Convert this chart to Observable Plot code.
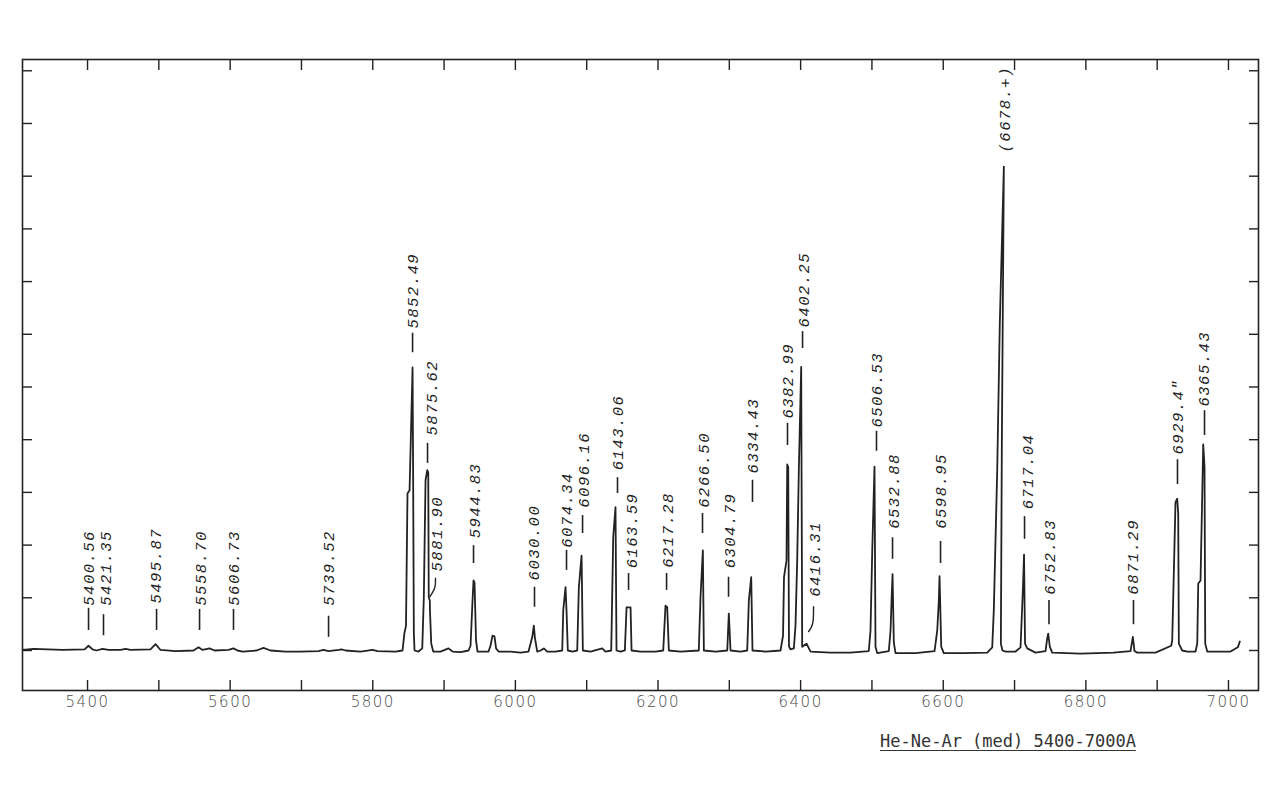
<!DOCTYPE html>
<html><head><meta charset="utf-8">
<script src="https://cdn.jsdelivr.net/npm/d3@7"></script>
<script src="https://cdn.jsdelivr.net/npm/@observablehq/plot@0.6"></script>
<style>
html,body{margin:0;padding:0;background:#fff;}
#chart{position:relative;width:1280px;height:796px;overflow:hidden;}
#chart svg text{letter-spacing:1.5px;}
#caption{position:absolute;left:880px;top:731px;font-family:"DejaVu Sans Mono",monospace;font-size:17px;line-height:20px;color:#333;text-decoration:underline;text-underline-offset:3px;white-space:pre;}
</style></head><body>
<div id="chart"><div id="caption">He-Ne-Ar (med) 5400-7000A</div></div>
<script>
// Spectrum trace: wavelength (Å) and relative intensity (chart divisions)
const spectrumWl = [
5309.0,5324.3,5343.9,5364.9,5395.8,5401.4,5407.0,5412.6,5421.0,5429.4,5446.3,5453.3,5460.3,5488.3,5495.4,5502.4,5523.4,5548.6,5555.7,5561.3,5571.1,5578.1,5597.7,5604.7,5610.3,5617.4,5637.0,5646.8,5656.6,5677.7,5698.7,5723.9,5730.9,5738.0,5752.0,5756.2,5761.8,5782.8,5799.7,5806.7,5831.9,
5841.7,5844.5,5846.6,5848.7,5851.6,5855.8,5856.7,5857.6,5858.6,5864.2,5869.4,5871.6,5874.0,5876.4,5877.8,5878.5,5880.0,5880.2,5882.0,5884.8,5895.0,5906.2,5911.9,5923.1,5934.3,5937.1,5939.9,5941.3,5942.7,5944.8,5946.9,5962.3,5965.1,5967.9,5970.7,5972.9,5976.4,5993.2,6007.2,6018.4,6023.6,6025.9,6027.3,6030.6,6035.3,6039.9,6044.7,6056.3,6065.7,6067.1,6070.3,6071.7,6073.5,6080.1,6086.7,6089.0,6092.8,6094.6,6105.4,6121.8,6126.4,6134.4,6137.2,6140.4,6141.8,6147.4,6153.5,6155.9,6161.5,6162.9,6175.5,6196.5,6207.3,6210.5,6212.9,6215.2,6231.6,6257.2,6259.6,6262.9,6264.3,6280.7,6297.1,6299.3,6301.7,6315.7,6325.1,6327.4,6330.7,6332.5,6350.8,
6371.8,6375.3,6376.7,6380.2,6381.2,6382.6,6383.7,6385.8,6390.5,6392.8,6395.2,6397.5,6400.8,6402.2,6408.3,6413.9,6441.9,6470.0,6495.6,6498.0,6500.4,6503.6,6505.0,6507.4,6523.7,6526.1,6527.5,6528.9,6530.7,6533.1,6561.1,6587.8,6591.6,6593.8,6594.8,6597.2,6600.8,6628.9,6661.7,
6668.7,6670.9,6675.7,6679.3,6685.0,6682.2,6680.8,6683.1,6687.3,6701.4,6708.4,6711.9,6713.3,6714.7,6717.8,6729.4,6743.4,6745.8,6747.2,6749.5,6752.8,6792.5,6838.8,6862.6,6865.9,6868.2,6872.0,6897.7,6919.7,6921.1,6925.7,6928.1,6929.5,6930.4,6935.1,6942.2,6953.8,6956.2,6957.6,6960.8,6964.6,6966.4,6967.4,6970.2,7002.9,7013.1,7015.9
];
const spectrumIntensity = [
0.01,0.03,0.02,0.01,0.02,0.09,0.02,0.00,0.03,0.01,0.01,0.03,0.01,0.02,0.12,0.01,-0.01,0.00,0.06,0.01,0.04,0.00,0.01,0.04,0.00,-0.02,0.00,0.05,0.00,-0.02,-0.02,-0.01,0.01,-0.01,0.01,0.02,0.00,-0.02,0.01,-0.01,-0.02,
0.00,0.34,0.47,2.98,3.04,5.37,3.04,0.32,0.00,-0.02,0.04,1.01,3.23,3.42,3.38,1.01,0.95,0.76,0.13,-0.02,-0.02,0.04,-0.02,-0.03,0.00,0.09,0.95,1.33,1.29,0.19,-0.02,-0.02,0.09,0.28,0.27,0.04,-0.02,-0.02,-0.04,-0.02,0.25,0.47,0.25,-0.02,0.00,0.04,-0.02,-0.02,0.00,0.76,1.20,0.76,0.00,-0.02,0.00,1.20,1.80,0.00,-0.02,0.04,-0.02,0.00,2.15,2.72,0.00,-0.02,0.00,0.82,0.82,0.00,-0.02,-0.02,0.00,0.85,0.82,0.00,-0.02,0.00,1.01,1.90,0.00,-0.02,0.00,0.70,0.00,-0.02,0.00,0.95,1.39,0.00,-0.02,
0.00,0.28,1.39,1.71,3.53,3.48,0.08,0.02,0.04,0.47,1.71,3.43,5.38,0.07,0.13,-0.02,-0.04,-0.04,-0.01,0.38,1.87,3.49,0.07,-0.05,-0.01,0.38,0.95,1.45,0.15,-0.05,-0.05,-0.01,0.38,0.95,1.41,0.07,-0.05,-0.05,-0.04,
0.06,0.76,3.42,6.20,9.18,3.98,0.13,0.00,-0.02,-0.02,0.06,1.23,1.82,0.13,0.04,-0.04,-0.01,0.23,0.32,0.07,-0.04,-0.06,-0.04,-0.01,0.26,-0.01,-0.04,-0.04,0.09,0.19,2.81,2.88,2.60,0.13,0.00,-0.02,-0.02,0.13,1.27,1.33,3.91,3.48,0.13,-0.02,-0.02,0.06,0.17
];

// Line identifications (text as printed)
const labelNames = ["5400.56","5421.35","5495.87","5558.70","5606.73","5739.52","5852.49","5875.62","5881.90","5944.83","6030.00","6074.34","6096.16","6143.06","6163.59","6217.28","6266.50","6304.79","6334.43","6382.99","6402.25","6416.31","6506.53","6532.88","6598.95","(6678.+)","6717.04","6752.83","6871.29","6929.4\u2033","6365.43"];
const labelWl = [5401.4,5426.6,5495.4,5558.5,5606.1,5738.0,5855.8,5883.8,5890.4,5944.1,6026.8,6073.1,6095.6,6144.6,6162.9,6213.4,6265.2,6301.7,6333.9,6383.0,6404.1,6420.9,6507.8,6530.3,6597.6,6687.3,6719.6,6750.4,6866.8,6929.9,6966.4];
const labelBase = [0.85,0.85,0.89,0.85,0.85,0.85,6.11,4.08,1.50,2.13,1.33,1.95,2.71,3.42,1.56,1.57,2.71,1.56,3.36,4.40,6.13,1.02,4.23,2.31,2.31,9.45,2.68,1.06,1.06,3.72,4.63];

// Identification ticks
const markerWl   = [5401.4,5422.4,5496.8,5557.1,5604.7,5738.0,5855.8,5876.8,5941.3,6026.8,6071.7,6094.2,6143.2,6158.7,6212.0,6262.4,6298.9,6332.5,6381.6,6402.7,6506.4,6528.9,6596.2,6714.0,6748.3,6866.8,6928.5,6966.4];
const markerLow  = [0.38,0.28,0.38,0.38,0.38,0.25,5.65,3.55,1.65,0.82,1.52,2.22,2.98,1.14,1.14,2.22,1.01,2.81,3.89,5.73,3.78,1.73,1.65,2.11,0.49,0.49,3.15,4.08];
const markerHigh = [0.80,0.68,0.78,0.78,0.78,0.65,6.02,3.93,1.99,1.20,1.90,2.56,3.28,1.46,1.46,2.60,1.39,3.23,4.31,6.05,4.16,2.14,2.07,2.54,0.95,0.95,3.62,4.55];

// Bent ticks for blended lines
const hookGroup = ["5881.90","5881.90","5881.90","5881.90","6416.31","6416.31","6416.31","6416.31"];
const hookWl = [5888.0,5888.0,5883.8,5880.0,6418.1,6418.1,6414.6,6411.1];
const hookIntensity = [1.37,1.20,1.10,1.02,0.83,0.53,0.42,0.36];

// Axes
const xTicks = [5400,5500,5600,5700,5800,5900,6000,6100,6200,6300,6400,6500,6600,6700,6800,6900,7000];
const xTickLabels = [5400,5600,5800,6000,6200,6400,6600,6800,7000];
const yTicks = [0,1,2,3,4,5,6,7,8,9,10,11];

const spectrum = spectrumWl.map((w, i) => ({wl: w, v: spectrumIntensity[i]}));
const labels = labelNames.map((t, i) => ({t, wl: labelWl[i], v: labelBase[i]}));
const markers = markerWl.map((w, i) => ({wl: w, lo: markerLow[i], hi: markerHigh[i]}));
const hooks = hookWl.map((w, i) => ({g: hookGroup[i], wl: w, v: hookIntensity[i]}));

const ink = "#222";
const plot = Plot.plot({
  width: 1280, height: 796,
  marginLeft: 22, marginRight: 22, marginTop: 59, marginBottom: 106,
  x: {domain: [5308.8, 7042.1]},
  y: {domain: [-0.759, 11.214]},
  style: {background: "transparent", color: ink},
  marks: [
    Plot.frame({stroke: ink, strokeWidth: 1.6}),
    Plot.axisY({anchor: "left", ticks: yTicks, tickSize: -10, tickFormat: () => "", label: null, strokeWidth: 1.4}),
    Plot.axisY({anchor: "right", ticks: yTicks, tickSize: -10, tickFormat: () => "", label: null, strokeWidth: 1.4}),
    Plot.axisX({anchor: "bottom", ticks: xTicks, tickSize: -10, tickFormat: () => "", label: null, strokeWidth: 1.4}),
    Plot.axisX({anchor: "top", ticks: xTicks, tickSize: -10, tickFormat: () => "", label: null, strokeWidth: 1.4}),
    Plot.text(xTickLabels, {x: d => d, frameAnchor: "bottom", dy: 16, text: d => String(d), fontFamily: "DejaVu Sans", fontSize: 15, fontWeight: 300, fill: "#4a4a4a"}),
    Plot.line(spectrum, {x: "wl", y: "v", stroke: ink, strokeWidth: 1.8}),
    Plot.ruleX(markers, {x: "wl", y1: "lo", y2: "hi", stroke: ink, strokeWidth: 1.6}),
    Plot.line(hooks, {x: "wl", y: "v", z: "g", stroke: ink, strokeWidth: 1.4, curve: "basis"}),
    Plot.text(labels, {x: "wl", y: "v", text: "t", rotate: -90, textAnchor: "start", lineAnchor: "middle", fontFamily: "Liberation Mono", fontStyle: "italic", fontSize: 15.5, fill: "#222"})
  ]
});
document.getElementById("chart").prepend(plot);
</script>
</body></html>
